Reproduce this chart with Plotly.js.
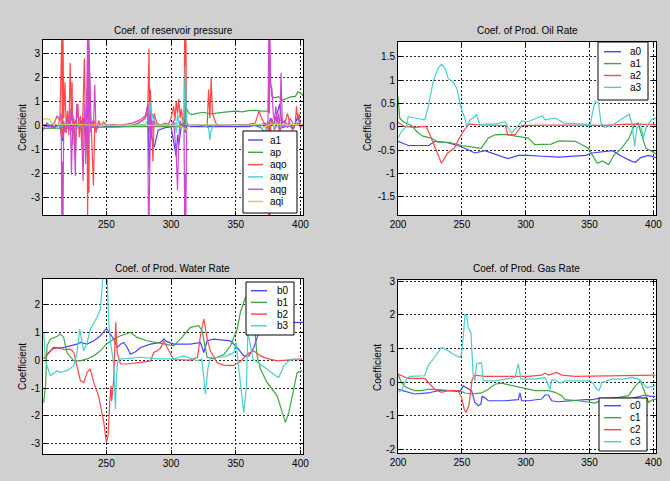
<!DOCTYPE html>
<html><head><meta charset="utf-8">
<script src="https://cdn.plot.ly/plotly-3.0.1.min.js"></script>
<style>html,body{margin:0;padding:0;background:#d0d0d0;}#chart{width:670px;height:481px;}</style>
</head><body><div id="chart"></div>
<script>
// ---------- Panel titles / names ----------
const panelTitles = ['Coef. of reservoir pressure','Coef. of Prod. Oil Rate','Coef. of Prod. Water Rate','Coef. of Prod. Gas Rate'];
const yTitle = 'Coefficient';

// ---------- Reservoir pressure (top-left) ----------
const resNames = ['a1','ap','aqo','aqw','aqg','aqi'];
const res_a1_x = [201,205,210,214,216,217,219,222,224,226,229,232,234,235,236,238,241,245,250,260,270,275,280,282,283,284,285,287,290,295,300,302,304,305,306,308,310,311,312,315,320,330,340,350,360,365,370,372,375,377,379,382,384,386,390,395,398,400,402];
const res_a1_y = [0.02,-0.05,-0.05,0,-0.65,0.1,-0.1,0.05,-0.3,0.2,-0.1,0.3,-0.5,0.8,-0.2,0.1,-0.1,0,-0.05,-0.05,0,0.1,0.3,0.8,-1.8,-0.2,-0.5,-0.9,-0.2,-0.1,-0.05,-0.6,-1.3,-0.4,-0.8,0,0.1,-0.3,0,-0.05,-0.05,-0.05,-0.05,-0.05,-0.05,0,-0.1,-0.3,0,0.3,0,0.5,0.9,-0.1,0,-0.1,0.4,-0.05,0];
const res_ap_x = [201,210,220,230,240,250,260,270,280,290,300,305,310,311,312,314,316,320,325,330,335,340,345,350,355,360,365,370,375,376,377,378,380,383,386,390,393,396,398,400,402];
const res_ap_y = [-0.12,-0.12,-0.1,-0.1,-0.08,-0.06,-0.05,-0.05,-0.05,-0.05,-0.05,-0.05,-0.05,0.5,0.7,0.5,0.45,0.5,0.55,0.48,0.52,0.55,0.58,0.6,0.57,0.62,0.63,0.6,0.6,2.3,1.6,1.2,1.15,1.2,1.05,1.15,1.2,1.2,1.4,1.35,1.25];
const res_aqo_x = [201,204,208,212,214,215.5,216,216.5,217,218,219,220,221,222,223,223.5,224,225,226,227,228,229,230,231,232,233,234,235,235.5,236,236.5,237,238,239,240,241,242,244,246,248,250,255,260,270,275,280,282,283,283.5,284,285,286,287,289,292,295,298,300,302,303,304,305,306,307,308,309,310,310.5,311,311.5,312,313,315,320,325,328,329,330,331,332,335,340,350,360,365,367,368,370,372,374,375,375.5,376,376.5,377,378,380,382,384,386,388,390,392,394,396,397,398,399,400,402];
const res_aqo_y = [-0.2,0.1,-0.1,0.4,0.2,3.6,-0.5,3.6,0.3,1.8,-0.3,0.6,-0.4,2.6,0.2,1.8,-0.8,0.3,-1.2,0.5,0.9,-0.5,0.4,-1.0,0.8,2.8,-1.2,1.5,-3.8,0.3,-2.8,2.2,0.4,-0.8,-2.5,0.2,-0.3,0.2,0,0.15,0,0.05,0,0.02,0.1,0.3,0.6,3.2,-0.3,1.5,0.2,-1.5,0.5,0.1,0,0.1,0.05,0.3,0.8,0.2,1.0,0.5,1.1,0.3,0.7,0.1,0.4,3.6,-0.1,3.6,0.2,0,0,0.02,0,0.05,1.5,0.3,2.0,0.5,0.05,0,0.02,0.05,0.1,0.4,0.6,0.3,0.1,0.05,0,-3.8,0.2,-3.8,0.1,0.3,-0.2,0.3,-0.3,0.2,0.1,0.5,0.05,-0.2,0.1,0.8,0.2,0.5,-0.1,0.05];
const res_aqw_x = [201,210,215,220,225,230,233,235,237,240,245,250,260,270,280,282,283,284,285,286,288,290,295,300,303,304,305,306,308,310,311,311.5,312,313,315,320,325,329,330,331,333,340,350,360,365,368,370,372,375,378,380,385,390,395,400,402];
const res_aqw_y = [0,0.05,-0.05,0,-0.1,0,-0.2,0.3,-0.1,0,0,0,0,0,0.05,0.2,0.5,1.0,0.2,0.5,0,0,0,0,0.1,-0.3,0.5,0.1,0,0.3,2.5,0.8,0.1,0,0,0,0,-0.1,-0.6,-0.2,0,0,0,0,0,0.05,-0.1,-0.3,0,0.1,-0.1,0,0.1,0,0,0];
const res_aqg_x = [201,205,210,213,215,215.5,216,216.5,217,218,220,221,222,223,224,225,226,227,228,229,230,231,232,233,234,235,235.5,236,236.5,237,238,239,240,241,242,244,246,250,260,265,270,275,278,280,281,282,282.5,283,283.5,284,285,286,288,290,295,300,302,303,304,305,306,307,308,310,310.5,311,311.5,312,313,315,320,330,340,350,360,365,370,372,374,375,375.5,376,376.5,377,378,379,380,381,382,383,384,385,386,388,390,392,395,398,400,402];
const res_aqg_y = [0,0.02,-0.1,0.05,0.5,-3.8,-1.5,-3.8,0.2,-0.3,0.3,-0.2,0.7,-2.05,0.5,-0.3,-2.1,0.9,0.3,0.3,0.2,-0.4,-2.3,0.9,-1.6,1.8,3.6,-1.0,3.6,2.5,-0.3,0.2,-0.1,1.7,-0.2,0.05,0,0,0,0.05,0.1,0.2,0.3,0.4,0.6,0.9,-3.8,-3.8,-2,0.5,-0.4,0.2,0,0,0,0,0.2,-0.5,-1.2,-2.7,-0.5,0.2,0,0,-3.8,-2,-3.8,-0.2,0,0,0,0,0,0,0,0,0,0.1,-0.1,0.3,3.6,0.5,3.6,1.7,1.5,0.5,0.2,0.8,0.1,0.5,-0.3,2.2,0.1,0.2,-0.1,0.3,0,0.1,0,0];
const res_aqi_x = [201,204,206,208,210,215,220,230,240,250,260,270,280,290,300,305,308,310,311,312,313,315,320,330,340,350,360,370,372,375,380,385,390,395,400,402];
const res_aqi_y = [0.25,0.28,0.25,0.08,0.05,0.03,0.05,0.02,0.02,0,0,0.02,0.02,0,0.03,0,-0.05,-0.1,-0.15,-0.2,-0.05,0,0.02,0.03,0.02,0,0.02,0.05,-0.1,0.03,0.05,0.02,0,0.05,0.02,0];

// ---------- Oil rate (top-right) ----------
const oilNames = ['a0','a1','a2','a3'];
const oil_a0_x = [200,208,224,229,237,247,255,260,268,276,286,294,302,313,326,347,352,368,375,383,386,390,396,402];
const oil_a0_y = [-0.31,-0.40,-0.40,-0.31,-0.33,-0.40,-0.49,-0.56,-0.51,-0.59,-0.68,-0.61,-0.61,-0.63,-0.65,-0.61,-0.56,-0.51,-0.63,-0.74,-0.76,-0.66,-0.61,-0.66];
const oil_a1_x = [200,201.3,204,210.5,215.7,219.6,226,231.4,240,249.7,260,265,270.7,276,284,292,302,307,320,326,339,349,353,356,360,365,369,375,381,385,388,391,394,399,402];
const oil_a1_y = [0.65,0.19,0.11,0.03,-0.13,-0.20,-0.24,-0.33,-0.33,-0.40,-0.44,-0.46,-0.24,-0.17,-0.16,-0.19,-0.24,-0.38,-0.37,-0.30,-0.31,-0.46,-0.63,-0.78,-0.73,-0.81,-0.61,-0.46,-0.24,0.04,0.08,-0.17,-0.46,-0.53,-0.58];
const oil_a2_x = [200,205,213,222,225,229,234,239,244,248,252,256,265,284,286,292,297,302,330,360,380,402];
const oil_a2_y = [0.10,0.01,-0.01,0.01,-0.17,-0.46,-0.78,-0.56,-0.46,-0.24,-0.06,0.06,0.04,0.03,-0.17,-0.16,0.03,0.03,0.04,0.03,0.06,0.05];
const oil_a3_x = [200,202.6,206.6,208,213,221,224,227.5,231.4,234,236.7,239.3,243,246,249.7,252.4,253.7,256.3,259,261.5,264,268,276,284,286.4,289,293,297,302,305,313,315,323,330,347,350.5,352,354.4,357,359,362,367.5,375,381,383,385.3,387,390,392,395,399,402];
const oil_a3_y = [-0.24,-0.10,0.01,0.22,0.19,0.15,0.47,0.97,1.26,1.34,1.26,1.04,0.97,0.83,0.37,0.19,0.01,0.15,0.19,0.26,0.04,0.06,0.06,0.11,-0.03,-0.13,-0.01,0.13,0.11,0.15,0.24,0.15,0.19,0.08,0.06,0.03,0.27,0.55,0.51,0.08,-0.01,0.03,0.17,0.27,0.08,-0.42,-0.03,0.08,-0.24,0.04,0.17,0.19];

// ---------- Water rate (bottom-left) ----------
const watNames = ['b0','b1','b2','b3'];
const wat_b0_x = [201.5,206.7,209.2,214.4,222.1,227.3,229.9,235.1,240.2,245.4,250,253.1,255.7,258.3,260.9,263.4,266.1,268.6,272.5,276.4,284.1,291.8,294.4,297,302,315,322.7,325.3,327.9,333,345.9,351.1,356.2,360.1,364,367.4,369.1,372,376,380,385,390,395,402];
const wat_b0_y = [0.04,0.33,0.45,0.42,0.51,0.57,0.63,0.57,0.69,0.87,1.13,0.93,0.75,0.45,0.57,0.63,0.45,0.21,0.30,0.45,0.57,0.63,0.75,0.66,0.57,0.57,0.63,0.27,0.69,0.75,0.69,0.45,0.15,0.15,0.45,0.93,1.35,1.35,1.33,1.33,1.33,1.33,1.35,1.35];
const wat_b1_x = [201.5,203,204.1,206.7,212,214.4,217,219.5,224.8,229.9,235.1,240.2,245.4,250,255.7,260.9,268.6,273.8,281.5,289.3,297,302.1,307.2,315,321.4,324,327.9,333,341,346,351.1,353.6,357.5,361,364,366.5,369.1,374.2,382,388.4,391,395,397.5,401.3];
const wat_b1_y = [-1.52,-0.9,0.51,0.75,0.85,0.93,0.81,0.27,-0.03,-0.03,0.04,0.15,0.33,0.57,0.75,0.87,0.99,0.81,0.69,0.63,0.57,0.51,0.75,1.17,1.23,1.05,0.10,0.04,0.21,0.51,1.11,1.71,2.24,2.2,1.5,0.15,-0.32,-0.80,-1.28,-2.23,-1.88,-0.92,-0.44,-0.38];
const wat_b2_x = [201.5,204.1,208,214.4,217,222.1,224.8,227.3,229.9,232.5,235.1,237.6,240.2,244,248,250,251.3,252.6,253.6,254.1,255.7,257.2,258.3,260.9,266.1,276.4,284.1,286.7,289.3,291.8,294.4,297,302,315,320.4,322.7,325.3,328,330.4,335.6,340.8,348,353.6,360,364,369.1,374,382,401.3];
const wat_b2_y = [0.04,0.21,0.39,0.45,0.37,0.39,0.27,-0.20,-0.74,-0.80,-0.44,-0.32,-0.80,-1.28,-2.23,-2.95,-2.71,-1.52,-0.92,-1.46,-0.68,1.35,0.27,-0.14,-0.14,-0.08,-0.03,0.27,0.33,0.42,0.69,0.45,0.02,0.0,0.1,0.87,1.47,0.75,0.33,-0.10,-0.18,-0.20,-0.05,0.25,0.33,0.15,0.06,-0.03,0.04];
const wat_b3_x = [201.5,202.8,204.1,206.7,211.8,214.4,219.5,224.8,227.3,229.4,232.5,235.1,237.6,242.8,245.4,247.2,248.5,250.5,251.8,253.1,254.4,255.7,257,257.8,258.8,260.6,263.4,276.4,289.3,297,302,309.8,320.4,323.7,325.3,326.6,328.4,330.4,338.2,343.3,348.5,350.3,351.8,354.2,356.2,358.3,359.3,361.4,363.4,366.5,374.2,380.7,383.3,387.2,391,395,402];
const wat_b3_y = [0.99,0.04,-0.20,-0.56,-0.38,-0.44,-0.38,-0.20,0.27,1.11,0.33,0.63,1.11,1.53,1.83,2.9,3.1,3.1,1.35,0.63,0.27,-0.20,-1.76,-0.56,-0.03,0.04,0.04,0.10,0.04,0.03,0.04,0.15,-0.03,0.04,-0.68,-1.22,-0.32,0.10,0.10,0.15,0.27,0.63,-0.08,-1.04,-1.88,-0.92,0.99,0.51,0.04,-0.08,-0.32,-0.56,-0.62,-0.20,-0.03,0.04,-0.03];

// ---------- Gas rate (bottom-right) ----------
const gasNames = ['c0','c1','c2','c3'];
const gas_c0_x = [200,207.9,213.1,223.6,231.4,239.3,248.4,251.1,255,257.6,260.2,262.8,264.9,265.9,267.5,270.7,283.7,294.2,295.5,296.8,302,312.5,315.1,317.8,320.4,325.6,346.5,351.8,357,367.5,383.2,393.6,397.6,401.5];
const gas_c0_y = [-0.21,-0.30,-0.35,-0.32,-0.25,-0.25,-0.28,-0.11,-0.21,-0.25,-0.60,-0.70,-0.65,-0.42,-0.45,-0.55,-0.55,-0.52,-0.32,-0.55,-0.55,-0.50,-0.38,-0.38,-0.55,-0.58,-0.52,-0.52,-0.48,-0.48,-0.48,-0.38,-0.42,-0.42];
const gas_c1_x = [200,202.6,206.6,213.1,218.3,223.6,231.4,240.6,248.4,252.4,257.6,265.4,270.7,275.9,281.1,291.6,302,307.3,317.8,323,328.2,330.8,341.3,354.4,362.2,372.7,380.6,385.8,389.7,392.3,396.3,398.9,402];
const gas_c1_y = [0.24,-0.01,-0.16,-0.25,-0.25,-0.21,-0.22,-0.25,-0.25,-0.32,-0.35,-0.32,-0.21,-0.06,-0.03,-0.11,-0.19,-0.25,-0.25,-0.30,-0.40,-0.52,-0.55,-0.62,-0.48,-0.45,-0.40,-0.11,0.04,-0.21,-0.60,-0.52,-0.50];
const gas_c2_x = [200,202.6,207.9,220.9,223.6,228.8,234,239.3,247.1,249.7,251.8,253.1,255.5,257.1,258.1,260.2,265.4,268.1,302,312.5,315.1,317.8,324.3,328.2,338.7,391,401.5];
const gas_c2_y = [0.24,0.19,0.11,0.11,0.01,-0.21,-0.30,-0.25,-0.25,-0.45,-0.80,-0.90,-0.70,-0.30,0.09,0.21,0.19,0.17,0.17,0.21,0.27,0.21,0.29,0.21,0.17,0.19,0.21];
const gas_c3_x = [200,202.6,206.6,209.2,220.9,223.6,227.5,231.4,234,239.3,243.2,248.4,249.7,251.1,252.4,253.7,255,257.1,258.1,258.9,260.2,261.5,264.1,265.4,266.7,275.9,291.6,294.2,296.3,307.3,315.1,319.1,320.4,323,326.9,330.8,350.5,353.1,355.7,357.5,359.6,367.5,375.3,383.2,388.4,395,401.5];
const gas_c3_y = [-0.30,-0.25,0.09,0.17,0.19,0.49,0.68,0.88,1.03,0.93,0.83,0.73,0.80,1.37,2.01,1.98,1.62,1.47,0.88,0.19,0.04,0.54,0.57,0.57,0.04,0.04,0.14,0.54,0.09,0.09,0.14,-0.21,0.07,0.07,-0.03,0.04,0.04,-0.06,-0.21,-0.25,-0.01,0.09,0.09,0.14,0.09,-0.16,-0.11];

// ---------- Tick values ----------
const resYTicks = [-3,-2,-1,0,1,2,3];
const oilYTicks = [-1.5,-1,-0.5,0,0.5,1,1.5];
const watYTicks = [-3,-2,-1,0,1,2];
const gasYTicks = [-2,-1,0,1,2,3];
const xTicksA = [250,300,350,400];
const xTicksB = [200,250,300,350,400];

// ---------- Styling ----------
const lineColors = ['#4646ff','#3fa63f','#ff4747','#47cfcf','#cf47cf','#cfcf47'];
const FONT = 'Liberation Sans, Arial, sans-serif';
const W = 670, H = 481;
const px = v => v / W, py = v => 1 - v / H;

const panels = [
  {names:resNames, xs:[res_a1_x,res_ap_x,res_aqo_x,res_aqw_x,res_aqg_x,res_aqi_x], ys:[res_a1_y,res_ap_y,res_aqo_y,res_aqw_y,res_aqg_y,res_aqi_y],
   box:[43,40,303,215], xr:[201,402], yr:[-3.73,3.56], xt:xTicksA, yt:resYTicks,
   title:[173,30], ytl:[22,128], leg:{box:[243,131,297,213], line:[248,263], tx:268, y0:140, dy:12.3}},
  {names:oilNames, xs:[oil_a0_x,oil_a1_x,oil_a2_x,oil_a3_x], ys:[oil_a0_y,oil_a1_y,oil_a2_y,oil_a3_y],
   box:[398,42,656,215], xr:[200,402], yr:[-1.89,1.82], xt:xTicksB, yt:oilYTicks,
   title:[527,30], ytl:[367,128], leg:{box:[598,42,648,100], line:[604,621], tx:628, y0:51.7, dy:11.9}},
  {names:watNames, xs:[wat_b0_x,wat_b1_x,wat_b2_x,wat_b3_x], ys:[wat_b0_y,wat_b1_y,wat_b2_y,wat_b3_y],
   box:[43,279,303,454], xr:[201,402], yr:[-3.36,2.9], xt:xTicksA, yt:watYTicks,
   title:[172,268], ytl:[22,367], leg:{box:[246,282,294,335], line:[251,267], tx:275, y0:290.7, dy:11.7}},
  {names:gasNames, xs:[gas_c0_x,gas_c1_x,gas_c2_x,gas_c3_x], ys:[gas_c0_y,gas_c1_y,gas_c2_y,gas_c3_y],
   box:[398,280,656,453], xr:[200,402], yr:[-2.1,3.03], xt:xTicksB, yt:gasYTicks,
   title:[526,268], ytl:[377,368], leg:{box:[599,398,647,451], line:[604,621], tx:628, y0:405.7, dy:12}}
];

const common = {showline:true, linecolor:'#000', linewidth:1, mirror:'allticks', ticks:'inside', ticklen:4,
  tickcolor:'#000', showgrid:true, gridcolor:'#222', griddash:'2px,2px', gridwidth:1, zeroline:false,
  tickfont:{size:10, color:'#000', family:FONT}, fixedrange:true, automargin:false};

const data = [], shapes = [], annotations = [];
const layout = {width:W, height:H, margin:{l:0,r:0,t:0,b:0}, paper_bgcolor:'#d0d0d0', plot_bgcolor:'#ffffff',
  showlegend:false, font:{family:FONT, size:10, color:'#000'}};

panels.forEach((p, i) => {
  const n = i === 0 ? '' : String(i + 1);
  const [bx0, by0, bx1, by1] = p.box;
  layout['xaxis' + n] = Object.assign({}, common, {domain:[px(bx0), px(bx1)], range:p.xr, anchor:'y' + n,
    tickmode:'array', tickvals:p.xt, ticktext:p.xt.map(String)});
  layout['yaxis' + n] = Object.assign({}, common, {domain:[py(by1), py(by0)], range:p.yr, anchor:'x' + n,
    tickmode:'array', tickvals:p.yt, ticktext:p.yt.map(String)});
  p.names.forEach((nm, k) => {
    data.push({type:'scatter', mode:'lines', name:nm, x:p.xs[k], y:p.ys[k], xaxis:'x' + n, yaxis:'y' + n,
      line:{color:lineColors[k], width:1.2}, hoverinfo:'skip'});
  });
  annotations.push({text:panelTitles[i], xref:'paper', yref:'paper', x:px(p.title[0]), y:py(p.title[1]),
    xanchor:'center', yanchor:'middle', showarrow:false, font:{size:10, color:'#000'}});
  annotations.push({text:yTitle, xref:'paper', yref:'paper', x:px(p.ytl[0]), y:py(p.ytl[1]), textangle:-90,
    xanchor:'center', yanchor:'middle', showarrow:false, font:{size:10, color:'#000'}});
  const L = p.leg;
  shapes.push({type:'rect', xref:'paper', yref:'paper', x0:px(L.box[0]), x1:px(L.box[2]), y0:py(L.box[3]), y1:py(L.box[1]),
    fillcolor:'#ffffff', line:{color:'#000', width:1}, layer:'above'});
  p.names.forEach((nm, k) => {
    const yy = L.y0 + k * L.dy;
    shapes.push({type:'line', xref:'paper', yref:'paper', x0:px(L.line[0]), x1:px(L.line[1]), y0:py(yy), y1:py(yy),
      line:{color:lineColors[k], width:1.4}, layer:'above'});
    annotations.push({text:nm, xref:'paper', yref:'paper', x:px(L.tx), y:py(yy), xanchor:'left', yanchor:'middle',
      showarrow:false, font:{size:10, color:'#000'}});
  });
});
layout.shapes = shapes;
layout.annotations = annotations;
Plotly.newPlot('chart', data, layout, {staticPlot:true, displayModeBar:false});
</script></body></html>
